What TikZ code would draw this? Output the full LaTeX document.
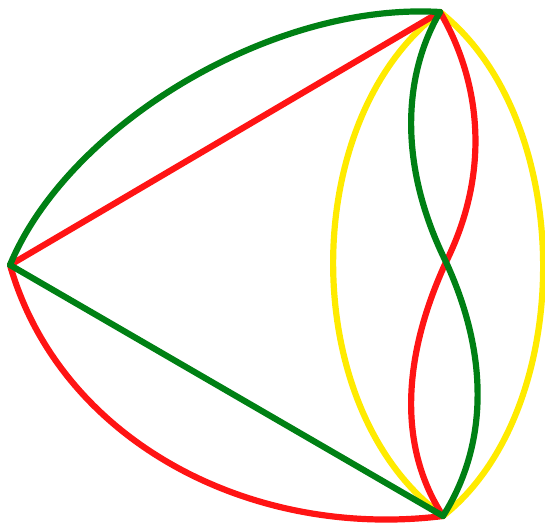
\documentclass[tikz,border=0pt]{standalone}
\begin{document}
\begin{tikzpicture}[x=1pt,y=-1pt,
  edge/.style={line width=6.2pt,line cap=round,line join=round},
  vtx/.style={inner sep=0pt,minimum size=0pt}]
\definecolor{myred}{RGB}{255,20,20}
\definecolor{mygreen}{RGB}{0,128,20}
\definecolor{myyellow}{RGB}{255,235,0}
\useasboundingbox (0,0) rectangle (545,525);
\node[vtx] (L) at (10,265) {};
\node[vtx] (T) at (440,12) {};
\node[vtx] (B) at (443,516) {};
\coordinate (X) at (446,262);
% yellow arcs
\draw[edge,myyellow] (T.center) .. controls (297,120) and (297,410) .. (B.center);
\draw[edge,myyellow] (T.center) .. controls (577,120) and (577,410) .. (B.center);
% red
\draw[edge,myred] (L.center) -- (T.center);
\draw[edge,myred] (L.center) .. controls (60,440) and (250,540) .. (B.center);
\draw[edge,myred] (T.center) .. controls (477,75) and (494,165) .. (X)
  .. controls (400,362) and (400,450) .. (B.center);
% green
\draw[edge,mygreen] (L.center) -- (B.center);
\draw[edge,mygreen] (L.center) .. controls (67,127) and (270,2) .. (T.center);
\draw[edge,mygreen] (T.center) .. controls (403,75) and (398,165) .. (X)
  .. controls (492,362) and (485,450) .. (B.center);
\end{tikzpicture}
\end{document}
